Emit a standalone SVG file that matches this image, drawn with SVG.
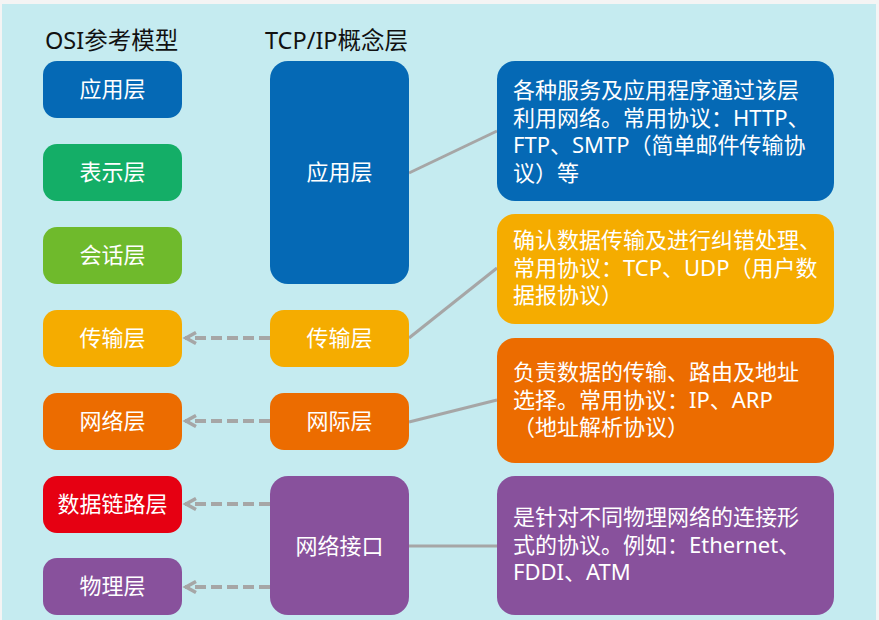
<svg xmlns="http://www.w3.org/2000/svg" width="879" height="620" viewBox="0 0 879 620">
<defs>
<marker id="ah" markerWidth="16" markerHeight="14" refX="12" refY="7" orient="auto" markerUnits="userSpaceOnUse">
<path d="M1,1.5 L11,7 L1,12.5" fill="none" stroke="#A6A6A6" stroke-width="3.5"/>
</marker>
</defs>
<style>
text{font-family:"Noto Sans","Noto Sans CJK SC",sans-serif;fill:#fff;font-size:22px}
.h{fill:#111;font-size:23.5px}
.c{text-anchor:middle}
.blue{fill:#0569B5}.green{fill:#14AE67}.lgreen{fill:#6FBA2C}.yellow{fill:#F5AC00}.orange{fill:#EC6C00}.red{fill:#E60012}.purple{fill:#88519C}
.dash{stroke:#A6A6A6;stroke-width:4;stroke-dasharray:11 5;fill:none}
.line{stroke:#A6A6A6;stroke-width:3;fill:none}
</style>
<rect x="0" y="0" width="879" height="620" fill="#F4F4F4"/>
<rect x="2" y="4" width="874" height="616" fill="#C5EBF0"/>
<text class="h" x="45" y="49">OSI参考模型</text>
<text class="h" x="265" y="49">TCP/IP概念层</text>

<g id="connectors">
<line class="dash" x1="270" y1="338" x2="185" y2="338" marker-end="url(#ah)"/>
<line class="dash" x1="270" y1="421" x2="185" y2="421" marker-end="url(#ah)"/>
<line class="dash" x1="270" y1="504" x2="185" y2="504" marker-end="url(#ah)"/>
<line class="dash" x1="270" y1="587" x2="185" y2="587" marker-end="url(#ah)"/>
<line class="line" x1="409" y1="173" x2="497" y2="131"/>
<line class="line" x1="409" y1="338" x2="497" y2="268"/>
<line class="line" x1="409" y1="422" x2="497" y2="400"/>
<line class="line" x1="409" y1="546" x2="497" y2="546"/>
</g>

<g id="osi-app"><rect class="blue" x="43" y="61" width="139" height="57" rx="14"/><text class="c" x="112.5" y="97">应用层</text></g>
<g id="osi-pres"><rect class="green" x="43" y="144" width="139" height="57" rx="14"/><text class="c" x="112.5" y="180">表示层</text></g>
<g id="osi-sess"><rect class="lgreen" x="43" y="227" width="139" height="57" rx="14"/><text class="c" x="112.5" y="263">会话层</text></g>
<g id="osi-trans"><rect class="yellow" x="43" y="310" width="139" height="57" rx="14"/><text class="c" x="112.5" y="346">传输层</text></g>
<g id="osi-net"><rect class="orange" x="43" y="393" width="139" height="57" rx="14"/><text class="c" x="112.5" y="429">网络层</text></g>
<g id="osi-link"><rect class="red" x="43" y="476" width="139" height="57" rx="14"/><text class="c" x="112.5" y="512">数据链路层</text></g>
<g id="osi-phys"><rect class="purple" x="43" y="558" width="139" height="57" rx="14"/><text class="c" x="112.5" y="594">物理层</text></g>

<g id="tcp-app"><rect class="blue" x="270" y="61" width="139" height="223" rx="18"/><text class="c" x="339.5" y="180">应用层</text></g>
<g id="tcp-trans"><rect class="yellow" x="270" y="310" width="139" height="57" rx="14"/><text class="c" x="339.5" y="346">传输层</text></g>
<g id="tcp-inet"><rect class="orange" x="270" y="393" width="139" height="57" rx="14"/><text class="c" x="339.5" y="429">网际层</text></g>
<g id="tcp-nif"><rect class="purple" x="270" y="476" width="139" height="139" rx="18"/><text class="c" x="339.5" y="554">网络接口</text></g>

<g id="desc-app"><rect class="blue" x="497" y="61" width="337" height="140" rx="18"/>
<text x="513" y="98">各种服务及应用程序通过该层</text>
<text x="513" y="125.5">利用网络。常用协议：HTTP、</text>
<text x="513" y="153">FTP、SMTP（简单邮件传输协</text>
<text x="513" y="180.5">议）等</text></g>
<g id="desc-trans"><rect class="yellow" x="497" y="214" width="337" height="110" rx="18"/>
<text x="513" y="248">确认数据传输及进行纠错处理、</text>
<text x="513" y="276">常用协议：TCP、UDP（用户数</text>
<text x="513" y="303">据报协议）</text></g>
<g id="desc-inet"><rect class="orange" x="497" y="338" width="337" height="125" rx="18"/>
<text x="513" y="380">负责数据的传输、路由及地址</text>
<text x="513" y="408">选择。常用协议：IP、ARP</text>
<text x="513" y="435">（地址解析协议）</text></g>
<g id="desc-nif"><rect class="purple" x="497" y="476" width="337" height="139" rx="18"/>
<text x="513" y="525">是针对不同物理网络的连接形</text>
<text x="513" y="553">式的协议。例如：Ethernet、</text>
<text x="513" y="580">FDDI、ATM</text></g>
</svg>
